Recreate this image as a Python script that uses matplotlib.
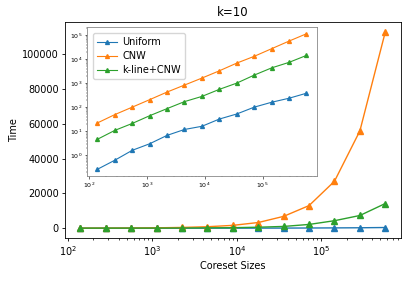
import matplotlib.pyplot as plt

# Coreset sizes and running times
coreset_sizes = [140, 280, 560, 1120, 2240, 4480, 8960, 17920, 35840, 71680, 143360, 286720, 573440]
time_uniform = [0.26, 0.62, 1.6, 3.0, 6.7, 11.8, 16, 32, 52, 100, 160, 235, 380]
time_cnw = [22, 49, 100, 205, 425, 830, 1620, 3250, 6800, 13000, 27000, 56000, 113000]
time_kline_cnw = [4.6, 10.8, 21, 44, 87, 170, 280, 550, 1000, 2150, 4300, 7300, 14200]

series = [
    ("Uniform", time_uniform, "#1f77b4"),
    ("CNW", time_cnw, "#ff7f0e"),
    ("k-line+CNW", time_kline_cnw, "#2ca02c"),
]

fig = plt.figure(figsize=(4.1, 2.84), dpi=100)

# main axes (linear y)
ax = fig.add_axes([0.1585, 0.162, 0.8185, 0.7605])
for name, vals, col in series:
    ax.plot(coreset_sizes, vals, marker="^", color=col, linewidth=1.0, markersize=4.5, label=name)
ax.set_xscale("log")
ax.set_title("k=10", fontsize=8.5, pad=4)
ax.set_xlabel("Coreset Sizes", fontsize=7, labelpad=2)
ax.set_ylabel("Time", fontsize=7, labelpad=2)
ax.tick_params(labelsize=7, length=2.5, width=0.6, pad=2)
ax.tick_params(which="minor", length=1.5, width=0.5)
for s in ax.spines.values():
    s.set_linewidth(0.6)

# inset axes (log-log)
ins = fig.add_axes([0.212, 0.38, 0.561, 0.525])
for name, vals, col in series:
    ins.plot(coreset_sizes, vals, marker="^", color=col, linewidth=0.8, markersize=2.8, label=name)
ins.set_xscale("log")
ins.set_yscale("log")
ins.tick_params(labelsize=4.5, length=1.8, width=0.4, pad=1.5)
ins.tick_params(which="minor", length=1.0, width=0.3)
for s in ins.spines.values():
    s.set_linewidth(0.6)
    s.set_color("#888888")
ins.legend(fontsize=7, loc="upper left", handlelength=2.0, borderpad=0.45, labelspacing=0.4,
           handletextpad=0.6, borderaxespad=0.6)

fig.savefig("out.png", dpi=100)
